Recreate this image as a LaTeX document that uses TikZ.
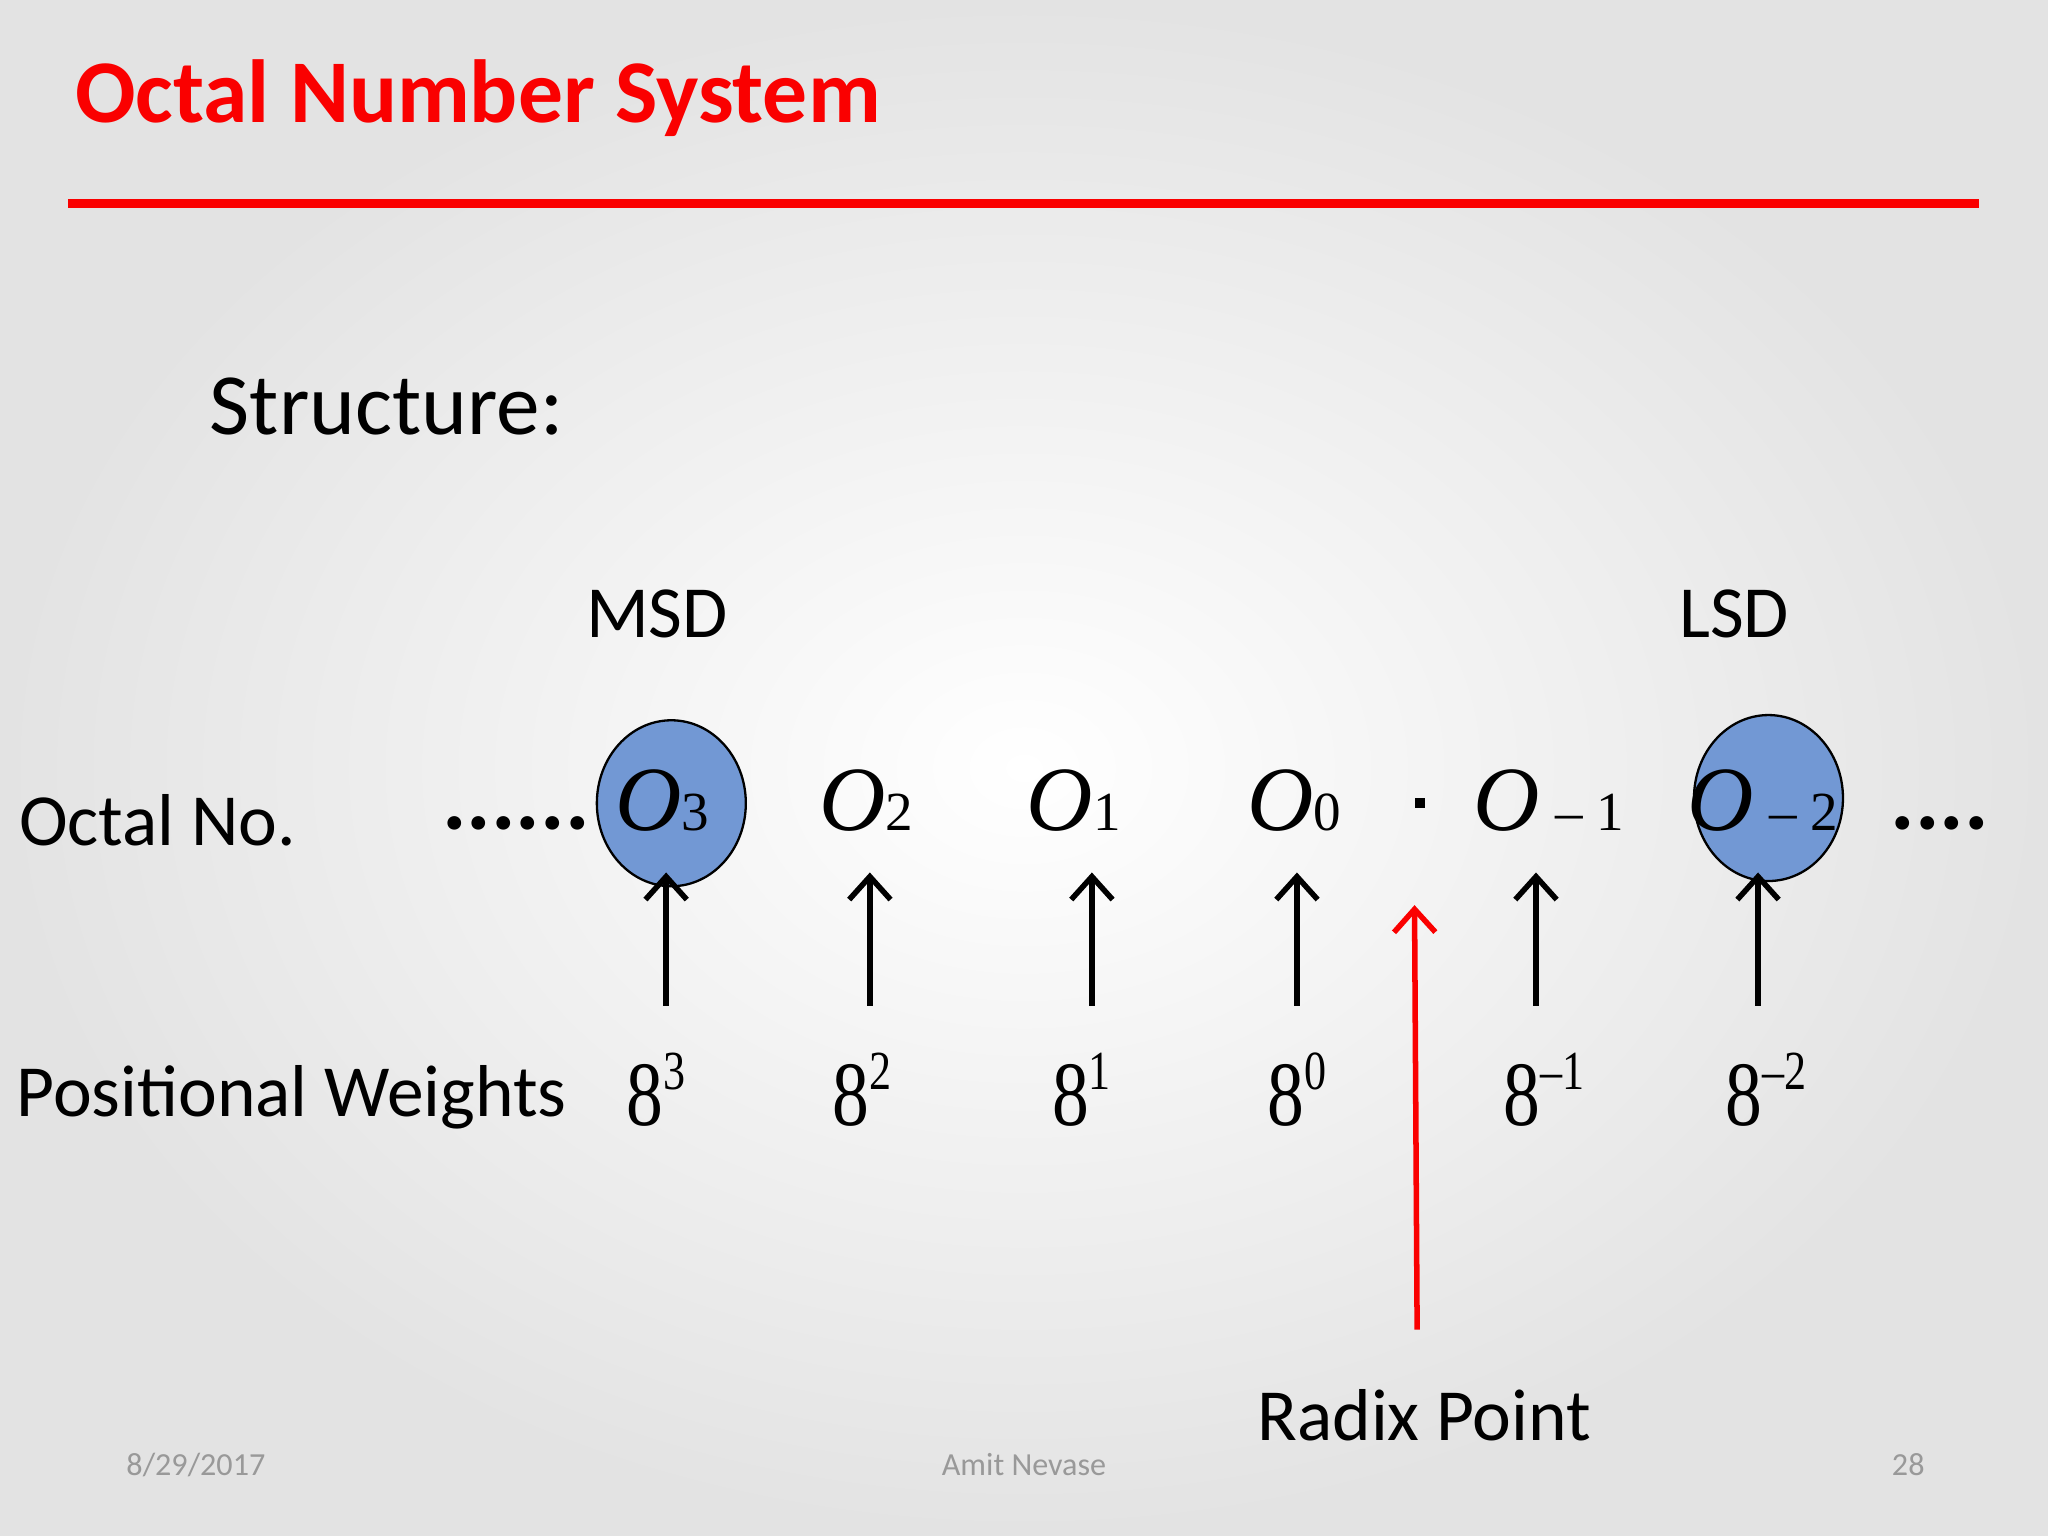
\documentclass[tikz,border=0pt]{standalone}
\usepackage{fontspec}
\setmainfont{Carlito}
\newfontfamily\tms{Liberation Serif}
\usetikzlibrary{arrows.meta,shapes.geometric}
\definecolor{cblue}{RGB}{114,152,212}
\definecolor{tred}{RGB}{250,0,0}
\tikzset{
 lbl/.style={font=\fontsize{16pt}{19pt}\selectfont, anchor=base west, inner sep=0pt},
 dig/.style={font=\tms\itshape\fontsize{20pt}{24pt}\selectfont, anchor=base, inner sep=0pt},
 wt/.style={font=\tms\fontsize{20pt}{24pt}\selectfont, anchor=base, inner sep=0pt, xscale=0.8},
 up/.style={line width=1.2pt, -{Straight Barb[length=5pt,width=9pt,line width=1.2pt]}},
 blob/.style={ellipse, draw=black, line width=0.5pt, fill=cblue, minimum width=1.14cm, minimum height=1.27cm},
 foot/.style={font=\fontsize{7pt}{8pt}\selectfont, text=gray!80, anchor=base, inner sep=0pt}
}
\newcommand{\mysub}[1]{{\upshape\fontsize{12pt}{14pt}\selectfont #1}}
\newcommand{\mysup}[1]{\raisebox{8pt}{\fontsize{12pt}{13pt}\selectfont #1}}
\begin{document}
\begin{tikzpicture}[x=0.01cm,y=-0.01cm]
\shade[inner color=white, outer color=gray!22] (0,0) rectangle (1568,1176);
\useasboundingbox (0,0) rectangle (1568,1176);
\node[lbl, text=tred, font=\bfseries\fontsize{19.5pt}{24pt}\selectfont] (title) at (57,94) {Octal Number System};
\draw[tred, line width=2pt] (52,156) -- (1515,156);
\node[lbl, font=\fontsize{19pt}{22pt}\selectfont] (struct) at (160,333) {Structure:};
\node[lbl] (msd) at (448,488) {MSD};
\node[lbl] (lsd) at (1285,488) {LSD};
\node[lbl] (octal) at (14,647) {Octal No.};
\node[lbl] (pw) at (12,855) {Positional Weights};
\node[blob] (c3) at (514,615) {};
\node[blob] (cm2) at (1354,611) {};
\node[lbl, font=\bfseries\fontsize{20pt}{22pt}\selectfont] (dl) at (338,635) {......};
\node[lbl, font=\bfseries\fontsize{20pt}{22pt}\selectfont] (dr) at (1447,635) {....};
\node[dig] (o3) at (507,636) {O\mysub{3}};
\node[dig] (o2) at (663,636) {O\mysub{2}};
\node[dig] (o1) at (822,636) {O\mysub{1}};
\node[dig] (o0) at (991,636) {O\mysub{0}};
\node[dig] (om1) at (1186,636) {O\,\mysub{– 1}};
\node[dig] (om2) at (1350,636) {O\,\mysub{– 2}};
\fill (1083,611) rectangle (1091,619);
\node[wt] (w3) at (502,862) {8\mysup{3}};
\node[wt] (w2) at (660,862) {8\mysup{2}};
\node[wt] (w1) at (828,862) {8\mysup{1}};
\node[wt] (w0) at (993,862) {8\mysup{0}};
\node[wt] (wm1) at (1182,862) {8\mysup{–1}};
\node[wt] (wm2) at (1352,862) {8\mysup{–2}};
\coordinate (a3) at (510,770); \coordinate (b3) at (510,668);
\coordinate (a2) at (666,770); \coordinate (b2) at (666,668);
\coordinate (a1) at (836,770); \coordinate (b1) at (836,668);
\coordinate (a0) at (993,770); \coordinate (b0) at (993,668);
\coordinate (am1) at (1176,770); \coordinate (bm1) at (1176,668);
\coordinate (am2) at (1346,770); \coordinate (bm2) at (1346,668);
\foreach \i in {3,2,1,0,m1,m2} \draw[up] (a\i) -- (b\i);
\node[lbl] (radix) at (962,1103) {Radix Point};
\coordinate (r1) at (1085,1018); \coordinate (r2) at (1083,693);
\draw[up, tred] (r1) -- (r2);
\node[foot] (date) at (150,1130) {8/29/2017};
\node[foot] (auth) at (784,1130) {Amit Nevase};
\node[foot] (pg) at (1461,1130) {28};
\end{tikzpicture}
\end{document}
